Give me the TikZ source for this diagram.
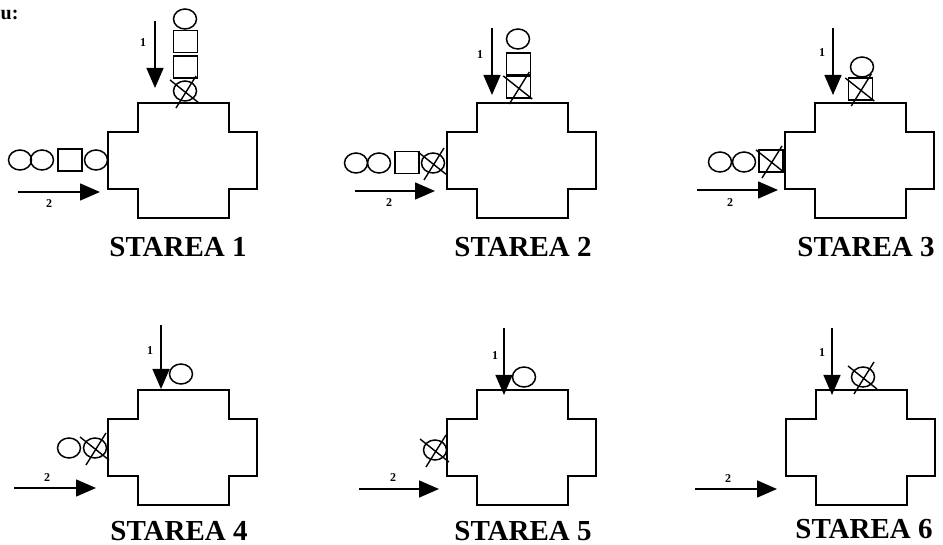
\documentclass[tikz,border=0pt]{standalone}
\usepackage{fontspec}
\setmainfont{Liberation Serif}
\usetikzlibrary{arrows.meta,shapes.geometric}
\tikzset{
  wall/.style={draw, line width=1.6pt},
  ball/.style={draw, ellipse, line width=1.5pt, minimum width=23pt, minimum height=20pt, inner sep=0pt},
  sq/.style={draw, rectangle, line width=1.5pt, minimum width=24pt, minimum height=22pt, inner sep=0pt},
  flow/.style={line width=1.5pt, -{Triangle[length=20pt,width=17pt]}},
  strikeline/.style={line width=1.4pt},
  num/.style={font=\bfseries\fontsize{12}{12}\selectfont, inner sep=0pt},
  ttl/.style={font=\bfseries\fontsize{29}{29}\selectfont, inner sep=0pt},
  pics/crossshape/.style={code={
    \draw[wall] (30,0) -- (121,0) -- (121,29) -- (149,29) -- (149,86) -- (121,86)
      -- (121,115) -- (30,115) -- (30,86) -- (0,86) -- (0,29) -- (30,29) -- cycle;}}
}
\newcommand\strikeit[1]{\draw[strikeline] (#1.center) ++(-15,-11) -- ++(29,23) (#1.center) ++(-9,17) -- ++(20,-32);}
\begin{document}
\begin{tikzpicture}[x=1pt,y=-1pt]
\useasboundingbox (0,0) rectangle (943,545);
\node[anchor=base west, font=\bfseries\fontsize{20}{20}\selectfont, inner sep=0pt] (cut) at (0.5,20) {u:};

% ---------- STAREA 1 ----------
\pic (c1) at (108,103) {crossshape};
\coordinate (p1a) at (155,21); \coordinate (p1b) at (155,88);
\draw[flow] (p1a) -- (p1b);
\node[num] (p1n1) at (143,43) {1};
\coordinate (p1c) at (18,192); \coordinate (p1d) at (100,192);
\draw[flow] (p1c) -- (p1d);
\node[num] (p1n2) at (49,204) {2};
\node[ball] (p1t1) at (185,19) {};
\node[sq] (p1t2) at (185.5,41.5) {};
\node[sq] (p1t3) at (185.5,67) {};
\node[ball] (p1t4) at (185,91) {};
\strikeit{p1t4}
\node[ball] (p1l1) at (20,160) {};
\node[ball] (p1l2) at (42,160) {};
\node[sq] (p1l3) at (70,160) {};
\node[ball] (p1l4) at (96,160) {};
\node[ttl] (s1) at (178,247) {STAREA 1};

% ---------- STAREA 2 ----------
\pic (c2) at (447,103) {crossshape};
\coordinate (p2a) at (492,28); \coordinate (p2b) at (492,95);
\draw[flow] (p2a) -- (p2b);
\node[num] (p2n1) at (480,55) {1};
\coordinate (p2c) at (355,191); \coordinate (p2d) at (435,191);
\draw[flow] (p2c) -- (p2d);
\node[num] (p2n2) at (389,203) {2};
\node[ball] (p2t1) at (518,39) {};
\node[sq] (p2t2) at (518.3,64) {};
\node[sq] (p2t3) at (518.3,87) {};
\strikeit{p2t3}
\node[ball] (p2l1) at (356,163) {};
\node[ball] (p2l2) at (379,163) {};
\node[sq] (p2l3) at (407,162.5) {};
\node[ball] (p2l4) at (433,163) {};
\strikeit{p2l4}
\node[ttl] (s2) at (523,247) {STAREA 2};

% ---------- STAREA 3 ----------
\pic (c3) at (785,103) {crossshape};
\coordinate (p3a) at (833,28); \coordinate (p3b) at (833,95);
\draw[flow] (p3a) -- (p3b);
\node[num] (p3n1) at (822,53) {1};
\coordinate (p3c) at (697,190); \coordinate (p3d) at (778,190);
\draw[flow] (p3c) -- (p3d);
\node[num] (p3n2) at (730,203) {2};
\node[ball] (p3t1) at (862,67) {};
\node[sq] (p3t2) at (860.3,89) {};
\strikeit{p3t2}
\node[ball] (p3l1) at (720,162) {};
\node[ball] (p3l2) at (744,162) {};
\node[sq] (p3l3) at (771,161) {};
\strikeit{p3l3}
\node[ttl] (s3) at (866,247) {STAREA 3};

% ---------- STAREA 4 ----------
\pic (c4) at (108,390) {crossshape};
\coordinate (p4a) at (161,325); \coordinate (p4b) at (161,389);
\draw[flow] (p4a) -- (p4b);
\node[num] (p4n1) at (150,351) {1};
\coordinate (p4c) at (14,488); \coordinate (p4d) at (96,488);
\draw[flow] (p4c) -- (p4d);
\node[num] (p4n2) at (47,478) {2};
\node[ball] (p4t1) at (181,374) {};
\node[ball] (p4l1) at (69,448) {};
\node[ball] (p4l2) at (95,448) {};
\strikeit{p4l2}
\node[ttl] (s4) at (179,531) {STAREA 4};

% ---------- STAREA 5 ----------
\pic (c5) at (447,390) {crossshape};
\coordinate (p5a) at (504,328); \coordinate (p5b) at (504,395);
\draw[flow] (p5a) -- (p5b);
\node[num] (p5n1) at (495,356) {1};
\coordinate (p5c) at (359,489); \coordinate (p5d) at (439,489);
\draw[flow] (p5c) -- (p5d);
\node[num] (p5n2) at (393,478) {2};
\node[ball] (p5t1) at (524,377) {};
\node[ball] (p5l1) at (435,450) {};
\strikeit{p5l1}
\node[ttl] (s5) at (523,531) {STAREA 5};

% ---------- STAREA 6 ----------
\pic (c6) at (786,390) {crossshape};
\coordinate (p6a) at (832,328); \coordinate (p6b) at (832,395);
\draw[flow] (p6a) -- (p6b);
\node[num] (p6n1) at (822,353) {1};
\coordinate (p6c) at (695,489); \coordinate (p6d) at (777,489);
\draw[flow] (p6c) -- (p6d);
\node[num] (p6n2) at (728,479) {2};
\node[ball] (p6t1) at (863,377) {};
\strikeit{p6t1}
\node[ttl] (s6) at (864,529) {STAREA 6};
\end{tikzpicture}
\end{document}
